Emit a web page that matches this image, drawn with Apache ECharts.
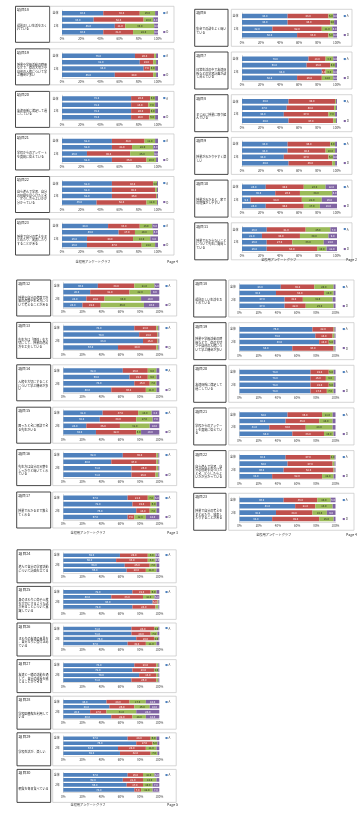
<!DOCTYPE html>
<html><head><meta charset="utf-8">
<script src="https://cdn.jsdelivr.net/npm/echarts@6/dist/echarts.min.js"></script>
<style>html,body{margin:0;padding:0;background:#fff}#c{width:363px;height:840px}</style>
</head><body><div id="c"></div>
<script>
// ---- categories / ticks / legend ----
const rowLabels = ['全体', '1年', '2年', '3年'];
const tickLabels = ['0%', '20%', '40%', '60%', '80%', '100%'];
const legendKeys = ['A', 'B', 'C', 'D'];
const footerTitle = '全校用アンケートグラフ';

// ---- values (% per row: A, B, C, D) ----
const a18 = [[43,38,16,3],[33,52,10,5],[55,11,30,4],[43,31,22,4]];
const a19 = [[76,20,2,2],[81,14,3,2],[85,7,5,3],[55,40,3,2]];
const a20 = [[72,20,5,3],[72,18,7,3],[72,20,5,3],[72,19,6,3]];
const a21 = [[52,34,11,3],[52,21,22,5],[26,45,25,4],[52,36,10,2]];
const a22 = [[52,43,4,1],[52,45,2,1],[52,46,1,1],[36,52,11,1]];
const a23 = [[48,33,13,6],[59,17,19,5],[26,48,18,8],[26,57,14,3]];

const b6  = [[48,43,5,4],[48,45,4,3],[32,52,11,5],[58,33,5,4]];
const b7  = [[70,18,8,4],[68,25,5,2],[84,4,8,4],[58,26,12,4]];
const b8  = [[49,49,1,1],[47,50,2,1],[44,47,7,2],[49,47,3,1]];
const b9  = [[48,45,5,2],[48,40,10,2],[44,47,5,4],[49,46,3,2]];
const b10 = [[25,40,23,12],[35,26,34,5],[9,54,21,16],[25,40,17,18]];
const b11 = [[26,41,26,7],[21,40,30,9],[26,27,33,14],[26,53,10,11]];

const c12 = [[36,38,21,5],[28,41,22,9],[24,19,38,19],[20,19,45,16]];
const c13 = [[74,23,2,1],[79,19,1,1],[83,15,1,1],[57,40,2,1]];
const c14 = [[62,26,9,3],[69,19,9,3],[74,16,7,3],[50,36,11,3]];
const c15 = [[41,37,14,8],[38,38,17,7],[24,35,31,10],[34,42,5,19]];
const c16 = [[62,35,2,1],[50,47,2,1],[71,26,2,1],[71,25,3,1]];
const c17 = [[67,21,7,5],[72,19,6,3],[76,14,7,3],[67,7,12,14]];

const d18 = [[43,35,20,2],[38,50,10,2],[47,19,31,3],[47,22,29,2]];
const d19 = [[76,22,1,1],[79,18,2,1],[83,10,5,2],[55,43,1,1]];
const d20 = [[74,19,5,2],[74,16,9,1],[74,19,5,2],[74,17,7,2]];
const d21 = [[50,36,11,3],[48,35,14,3],[31,38,28,3],[55,33,10,2]];
const d22 = [[48,47,4,1],[50,47,2,1],[46,52,1,1],[34,52,12,2]];
const d23 = [[46,35,14,5],[58,21,18,3],[38,38,15,9],[34,49,15,2]];

const e24 = [[59,29,8,4],[55,33,8,4],[64,26,7,3],[66,20,11,3]];
const e25 = [[72,19,6,3],[50,33,12,5],[93,5,1,1],[72,24,3,1]];
const e26 = [[71,24,4,1],[71,20,7,2],[76,19,4,1],[67,19,11,3]];
const e27 = [[74,23,2,1],[72,23,4,1],[79,18,2,1],[71,26,2,1]];
const e28 = [[45,24,17,14],[48,26,16,10],[28,17,31,24],[50,22,14,14]];
const e29 = [[67,24,6,3],[76,17,5,2],[57,29,11,3],[59,32,7,2]];
const e30 = [[67,16,12,5],[62,21,14,3],[66,17,10,7],[74,7,12,7]];

// ---- item texts ----
const q = {
  6: '集会での話をよく聞いている',
  7: '日常生活の中で友達関係などの学習計画が話し合えている',
  8: 'まじめに授業に取り組んでいる',
  9: '授業がわかりやすく楽しい',
  10: '授業がわかると、家での勉強がしやすい',
  11: '授業でわからないことについて先生に質問している',
  12: '授業や自分の進路で将来の進路や生き方について考えることがある',
  13: '先生方は「個性」を大切にして、授業の進め方を工夫している',
  14: '人権を大切にすることについて学ぶ機会が多い',
  15: '困ったときに相談できる先生がいる',
  16: '先生方は自分の言葉をしっかりと聞いてくれている',
  17: '授業でわかるまで教えてくれる',
  18: '規則正しい生活をおくれている',
  19: '授業や学級活動の時間などで、命の大切さや自他の人権について学ぶ機会が多い',
  20: '友達関係に満足して過ごしている',
  21: '学校からのアンケートを真剣に答えている',
  22: '自ら進んで学習、自分の役割を見つけたとき、どうしたらよいかが分かっている',
  23: '授業で自分の考えをまとめたり、発表したりすることがある',
  24: '進んで自分の学習活動について計画を立てる',
  25: '身のまわりに命や人権を大切にするような話があることについて意識している',
  26: 'まわりの友達の意見を、自分なりに受け止めている',
  27: '友達と一緒の活動を通して、自分の成長を感じることができる',
  28: '学校図書館を利用している',
  29: '学校生活が、楽しい',
  30: '朝食を毎日食べている'
};

// ---- page composition ----
const pages = [
  {no:[18,19,20,21,22,23], data:[a18,a19,a20,a21,a22,a23], page:'Page 4',
   L:{textX:15.5,textW:34,boxX:50,boxW:124,plotX:62,plotW:96,y0:13.3,pitch:42.55,row:6.3,boxTop:-7,boxH:36,footY:262,footCX:93,pageRX:178,rm:5}},
  {no:[6,7,8,9,10,11], data:[b6,b7,b8,b9,b10,b11], page:'Page 2',
   L:{textX:194.7,textW:33.3,boxX:231.3,boxW:120.7,plotX:242,plotW:95,y0:16,pitch:42.7,row:6.4,boxTop:-6.7,boxH:37,footY:260,footCX:278.7,pageRX:357,rm:6.5}},
  {no:[12,13,14,15,16,17], data:[c12,c13,c14,c15,c16,c17], page:'Page 3',
   L:{textX:16.7,textW:34,boxX:52.7,boxW:124,plotX:63.3,plotW:96,y0:285.7,pitch:42.4,row:6.45,boxTop:-5.7,boxH:36,footY:533,footCX:88,pageRX:178,rm:6}},
  {no:[18,19,20,21,22,23], data:[d18,d19,d20,d21,d22,d23], page:'Page 4',
   L:{textX:193.7,textW:32.3,boxX:228.7,boxW:125.3,plotX:239.5,plotW:96,y0:286.7,pitch:42.65,row:6.35,boxTop:-6.7,boxH:37,footY:535,footCX:273.7,pageRX:357,rm:7}},
  {no:[24,25,26,27,28,29,30], data:[e24,e25,e26,e27,e28,e29,e30], page:'Page 5',
   L:{textX:17,textW:33.7,boxX:52.7,boxW:123.5,plotX:63.3,plotW:96,y0:555.3,pitch:36.6,row:5.0,boxTop:-5.5,boxH:33,footY:804.3,footCX:88,pageRX:178,rm:6}}
];

const colors = ['#4F81BD', '#C0504D', '#9BBB59', '#8064A2'];
const labelColors = ['#ffffff', '#ffffff', '#222222', '#ffffff'];
const FONT = 'Noto Sans CJK JP';

const grids = [], xAxes = [], yAxes = [], series = [], graphics = [];
let gi = 0;
pages.forEach(pg => {
  const L = pg.L;
  pg.no.forEach((n, k) => {
    const yc = L.y0 + k * L.pitch;
    const bt = yc + L.boxTop;
    graphics.push({type:'rect', shape:{x:L.textX, y:bt, width:L.textW, height:L.boxH},
      style:{fill:'none', stroke:'#333', lineWidth:0.9}});
    graphics.push({type:'rect', shape:{x:L.boxX, y:bt, width:L.boxW, height:L.boxH},
      style:{fill:'none', stroke:'#c4c4c4', lineWidth:0.7}});
    graphics.push({type:'text', x:L.textX + 1.6, y:bt + 1.6,
      style:{text:'項目' + n, fontSize:3.8, fontFamily:FONT, fill:'#222'}});
    graphics.push({type:'text', x:L.textX + 1.6, y:bt + L.boxH * 0.58,
      style:{text:q[n], width:L.textW - 3, overflow:'breakAll', fontSize:3, lineHeight:3.5,
             verticalAlign:'middle', fontFamily:FONT, fill:'#222'}});

    grids.push({left:L.plotX, top:yc - L.row / 2, width:L.plotW, height:L.row * 4});
    xAxes.push({type:'value', gridIndex:gi, min:0, max:100, interval:20,
      axisLine:{show:true, lineStyle:{color:'#bbb', width:0.5}},
      axisTick:{show:false}, splitLine:{show:false},
      axisLabel:{fontSize:3, color:'#444', margin:2.5, fontFamily:FONT,
        formatter:v => tickLabels[Math.round(v / 20)]}});
    yAxes.push({type:'category', gridIndex:gi, data:rowLabels, inverse:true,
      axisLine:{show:true, lineStyle:{color:'#bbb', width:0.5}}, axisTick:{show:false},
      axisLabel:{fontSize:3, color:'#333', margin:3.5, fontFamily:FONT}});
    yAxes.push({type:'category', gridIndex:gi, data:legendKeys, inverse:true, position:'right',
      axisLine:{show:false}, axisTick:{show:false},
      axisLabel:{margin:L.rm, fontFamily:FONT,
        formatter:(v, i) => '{s' + i + '|■}{t|' + v + '}',
        rich:{s0:{color:colors[0], fontSize:2.6}, s1:{color:colors[1], fontSize:2.6},
              s2:{color:colors[2], fontSize:2.6}, s3:{color:colors[3], fontSize:2.6},
              t:{color:'#444', fontSize:3, padding:[0,0,0,0.6]}}}});
    const rows = pg.data[k];
    for (let s = 0; s < 4; s++) {
      series.push({type:'bar', name:legendKeys[s], stack:'st' + gi, xAxisIndex:gi, yAxisIndex:gi * 2,
        data:rows.map(r => r[s]), barCategoryGap:'28%',
        itemStyle:{color:colors[s]},
        label:{show:true, position:'inside', fontSize:2.7, color:labelColors[s], fontFamily:FONT,
          formatter:p => (p.value >= 4 ? p.value.toFixed(1) : '')}});
    }
    gi++;
  });
  graphics.push({type:'text', x:L.footCX, y:L.footY,
    style:{text:footerTitle, fontSize:3.2, fontFamily:FONT, fill:'#333', align:'center', verticalAlign:'middle'}});
  graphics.push({type:'text', x:L.pageRX, y:L.footY,
    style:{text:pg.page, fontSize:3.6, fontFamily:FONT, fill:'#333', align:'right', verticalAlign:'middle'}});
});

const chart = echarts.init(document.getElementById('c'));
chart.setOption({
  animation:false,
  backgroundColor:'#fff',
  textStyle:{fontFamily:FONT},
  grid:grids, xAxis:xAxes, yAxis:yAxes, series:series,
  graphic:{elements:graphics}
});
</script></body></html>
